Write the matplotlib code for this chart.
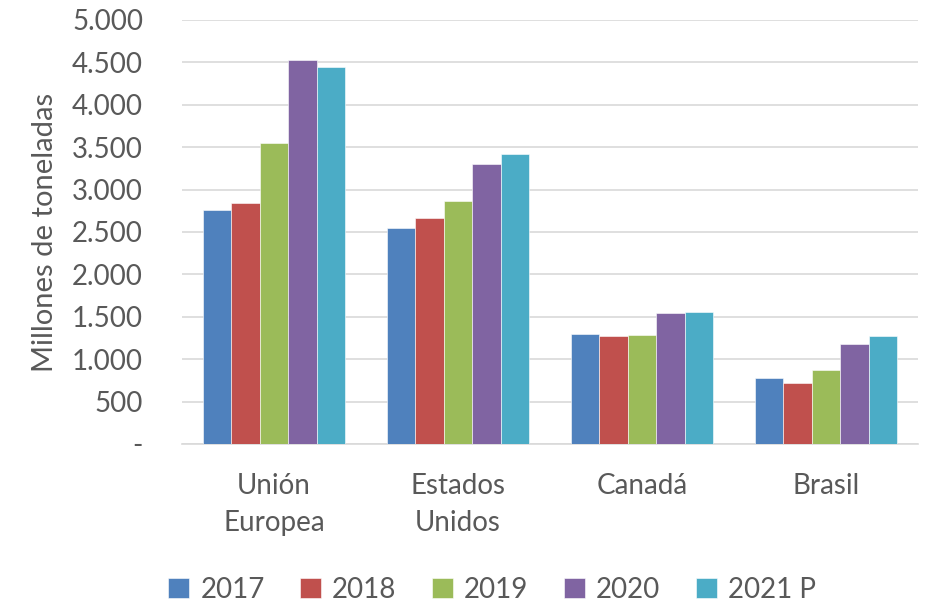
import matplotlib
matplotlib.use("Agg")
import matplotlib.pyplot as plt
import numpy as np
from matplotlib.ticker import FuncFormatter

# datos (millones de toneladas)
categorias = ["Unión\nEuropea", "Estados\nUnidos", "Canadá", "Brasil"]
series = ["2017", "2018", "2019", "2020", "2021 P"]
v2017 = [2760, 2550, 1295, 778]
v2018 = [2840, 2665, 1278, 723]
v2019 = [3545, 2866, 1284, 868]
v2020 = [4525, 3302, 1545, 1178]
v2021 = [4442, 3420, 1561, 1277]
colores = ["#4F81BD", "#C0504D", "#9BBB59", "#8064A2", "#4BACC6"]

plt.rcParams['font.family'] = ['Lato', 'DejaVu Sans']
gris = "#595959"

fig = plt.figure(figsize=(9.25, 6.04), dpi=100)
ax = fig.add_axes([182 / 925, 1 - 444 / 604, 736 / 925, 424 / 604])

x = np.arange(len(categorias))
ancho = 0.154
valores = [v2017, v2018, v2019, v2020, v2021]
for i, (nombre, vals) in enumerate(zip(series, valores)):
    ax.bar(x + (i - 2) * ancho, vals, ancho, color=colores[i], label=nombre,
           edgecolor="white", linewidth=0.4, zorder=3)

ax.set_xlim(-0.5, 3.5)
ax.set_ylim(0, 5000)
ax.set_yticks(np.arange(0, 5001, 500))
ax.yaxis.set_major_formatter(FuncFormatter(
    lambda v, p: "-" if v == 0 else f"{int(v):,}".replace(",", ".")))
ax.grid(axis="y", color="#D9D9D9", linewidth=1.2, zorder=0)
for s in ["top", "right", "left"]:
    ax.spines[s].set_visible(False)
ax.spines["bottom"].set_color("#D9D9D9")
ax.spines["bottom"].set_linewidth(1.2)
ax.tick_params(axis="both", length=0, labelsize=20, colors=gris)
ax.tick_params(axis="y", pad=28)
ax.tick_params(axis="x", pad=21)
ax.set_xticks(x)
ax.set_xticklabels(categorias, linespacing=1.5)
ax.set_ylabel("Millones de toneladas", fontsize=21, color=gris, labelpad=10)

fig.legend(loc="center", bbox_to_anchor=(492 / 925, 1 - 590 / 604), ncol=5,
           frameon=False, fontsize=20, labelcolor=gris, handlelength=0.75,
           handleheight=0.75, handletextpad=0.4, columnspacing=1.28)

fig.savefig("out.png", dpi=100)
